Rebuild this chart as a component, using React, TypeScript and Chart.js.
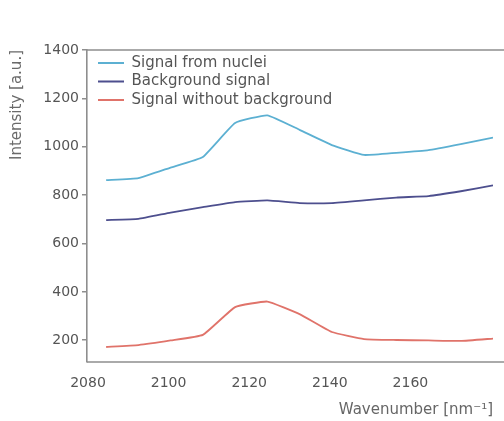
import React, { useEffect, useRef } from "react";
import { Chart, registerables } from "chart.js";

Chart.register(...registerables);

const wavenumbers = [2084.5, 2092.5, 2100.5, 2108.5, 2116.5, 2124.5, 2132.5, 2140.5, 2148.5, 2156.5, 2164.5, 2172.5, 2180.5];
const nucleiSignal = [862, 870, 914, 958, 1098, 1130, 1070, 1007, 966, 975, 986, 1011, 1038];
const backgroundSignal = [697, 702, 728, 750, 771, 778, 767, 767, 778, 790, 796, 816, 840];
const correctedSignal = [172, 180, 199, 222, 337, 360, 308, 234, 205, 201, 199, 197, 207];

const seriesNames = ["Signal from nuclei", "Background signal", "Signal without background"];
const seriesColors = ["#5cb0d2", "#4d4f8e", "#e0736a"];
const xTicksShown = [2080, 2100, 2120, 2140, 2160];
const yTicksShown = [200, 400, 600, 800, 1000, 1200, 1400];

const AXIS_GRAY = "#8e8e8e";
const TEXT_GRAY = "#555555";
const FONT = "'DejaVu Sans', sans-serif";

const framePlugin = {
  id: "frameLines",
  afterLayout(chart: any) {
    const lg = chart.legend;
    const ca = chart.chartArea;
    if (lg && ca) {
      lg.left = ca.left + 7.5;
      lg.top = ca.top + 2;
      lg.bottom = ca.bottom;
      lg.right = ca.right;
    }
  },
  beforeDatasetsDraw(chart: any) {
    const { ctx, chartArea } = chart;
    ctx.save();
    ctx.strokeStyle = AXIS_GRAY;
    ctx.lineWidth = 1.6;
    ctx.beginPath();
    ctx.moveTo(chartArea.left, chartArea.top);
    ctx.lineTo(chart.width, chartArea.top);
    ctx.moveTo(chartArea.left, chartArea.bottom);
    ctx.lineTo(chart.width, chartArea.bottom);
    ctx.stroke();
    ctx.restore();
  },
};

export default function App() {
  const canvasRef = useRef<HTMLCanvasElement | null>(null);

  useEffect(() => {
    if (!canvasRef.current) return;
    const series = [nucleiSignal, backgroundSignal, correctedSignal];
    const chart = new Chart(canvasRef.current, {
      type: "line",
      data: {
        datasets: series.map((vals, i) => ({
          label: seriesNames[i],
          data: wavenumbers.map((x, k) => ({ x, y: vals[k] })),
          borderColor: seriesColors[i],
          backgroundColor: seriesColors[i],
          borderWidth: 1.8,
          pointRadius: 0,
          tension: 0.12,
          fill: false,
        })),
      },
      options: {
        animation: false,
        responsive: true,
        maintainAspectRatio: false,
        layout: { padding: { top: 50, right: 11, left: 0, bottom: 0 } },
        plugins: {
          tooltip: { enabled: false },
          legend: {
            position: "chartArea",
            align: "start",
            labels: {
              boxWidth: 26,
              boxHeight: 2,
              padding: 3.5,
              color: TEXT_GRAY,
              font: { family: FONT, size: 15 },
              generateLabels: (c: any) => {
                const base = Chart.defaults.plugins.legend.labels.generateLabels(c);
                return base.map((it: any, i: number) => ({
                  ...it,
                  fillStyle: seriesColors[i],
                  strokeStyle: seriesColors[i],
                  lineWidth: 0,
                }));
              },
            },
          },
        },
        scales: {
          x: {
            type: "linear",
            min: 2079.75,
            max: 2180.5,
            afterFit: (s: any) => {
              s.height = 59;
            },
            afterBuildTicks: (s: any) => {
              s.ticks = xTicksShown.map((v) => ({ value: v }));
            },
            ticks: {
              stepSize: 20,
              includeBounds: false,
              padding: 13,
              color: TEXT_GRAY,
              font: { family: FONT, size: 14 },
              maxRotation: 0,
              autoSkip: false,
              callback: (v: any) => String(v),
            },
            grid: { display: false, drawTicks: false },
            border: { display: false },
            title: {
              display: true,
              text: "Wavenumber [nm⁻¹]",
              align: "end",
              color: "#666666",
              font: { family: FONT, size: 15 },
              padding: { top: 0, bottom: 2 },
            },
          },
          y: {
            type: "linear",
            min: 110,
            max: 1400,
            afterFit: (s: any) => {
              s.width = 87;
            },
            afterBuildTicks: (s: any) => {
              s.ticks = yTicksShown.map((v) => ({ value: v }));
            },
            ticks: {
              stepSize: 200,
              includeBounds: false,
              padding: 3,
              color: TEXT_GRAY,
              font: { family: FONT, size: 14 },
              callback: (v: any) => String(v),
            },
            grid: {
              display: true,
              drawOnChartArea: false,
              drawTicks: true,
              tickLength: 5,
              color: AXIS_GRAY,
              lineWidth: 1.5,
            },
            border: { display: true, color: AXIS_GRAY, width: 1.6 },
            title: {
              display: true,
              text: "Intensity [a.u.]",
              align: "end",
              color: "#6a6a6a",
              font: { family: FONT, size: 15 },
              padding: { top: 8, bottom: 0 },
            },
          },
        },
      },
      plugins: [framePlugin],
    } as any);
    return () => chart.destroy();
  }, []);

  return (
    <div style={{ position: "fixed", left: 0, top: 0, width: 504, height: 421, background: "#ffffff" }}>
      <canvas ref={canvasRef} />
    </div>
  );
}
